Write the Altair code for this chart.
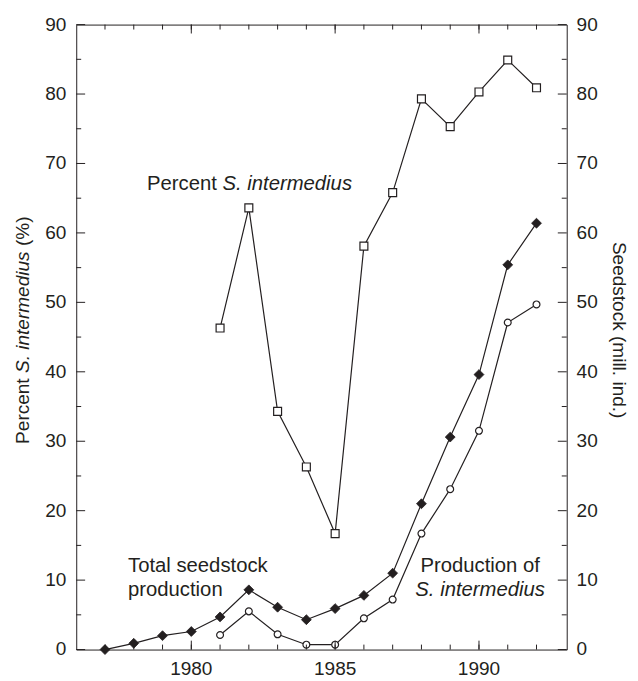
import altair as alt
import pandas as pd

# ---------------- data ----------------
pct_years = list(range(1981, 1993))
pct_values = [46.3, 63.6, 34.3, 26.3, 16.7, 58.1, 65.8, 79.3, 75.3, 80.3, 84.9, 80.9]

total_years = list(range(1977, 1993))
total_values = [0.0, 0.9, 2.0, 2.6, 4.7, 8.6, 6.1, 4.3, 5.9, 7.8, 11.0, 21.0, 30.6, 39.6, 55.4, 61.4]

prod_years = list(range(1981, 1993))
prod_values = [2.1, 5.5, 2.2, 0.7, 0.7, 4.5, 7.2, 16.7, 23.1, 31.5, 47.1, 49.7]

x_label_values = [1980, 1985, 1990]
x_minor_ticks = list(range(1977, 1993))
y_label_values = list(range(0, 91, 10))
y_minor_ticks = list(range(5, 90, 10))

# ---------------- styling ----------------
FONT = "Liberation Sans"
INK = "#231f20"
W, H = 496, 632
LAB = 19.25
ANN = 20.5
MAJ, MIN = 9, 5

ARIAL = {'P': 667, 'e': 556, 'r': 333, 'c': 500, 'n': 556, 't': 278, ' ': 278,
         'S': 667, '.': 278, 'i': 222, 'm': 833, 'd': 556, 'u': 556, 's': 500,
         '(': 333, '%': 889, ')': 333}


def text_w(s, size):
    return sum(ARIAL.get(c, 556) for c in s) * size / 1000.0


xs = alt.Scale(domain=[1976, 1993.05], nice=False, zero=False)
ys = alt.Scale(domain=[0, 90], nice=False, zero=True)

X_ = alt.X("year:Q", scale=xs, axis=None)
Y_ = alt.Y("value:Q", scale=ys, axis=None)

pct_df = pd.DataFrame({"year": pct_years, "value": pct_values})
total_df = pd.DataFrame({"year": total_years, "value": total_values})
prod_df = pd.DataFrame({"year": prod_years, "value": prod_values})

# ---------------- series ----------------
pct_line = alt.Chart(pct_df).mark_line(color=INK, strokeWidth=1.2).encode(x=X_, y=Y_)
pct_pts = alt.Chart(pct_df).mark_point(
    shape="square", filled=True, fill="white", stroke=INK, strokeWidth=1.2,
    size=64, opacity=1).encode(x=X_, y=Y_)

total_line = alt.Chart(total_df).mark_line(color=INK, strokeWidth=1.2).encode(x=X_, y=Y_)
prod_line = alt.Chart(prod_df).mark_line(color=INK, strokeWidth=1.2).encode(x=X_, y=Y_)
total_pts = alt.Chart(total_df).mark_point(
    shape="diamond", filled=True, fill=INK, stroke=INK, strokeWidth=0.8,
    size=100, opacity=1).encode(x=X_, y=Y_)
prod_pts = alt.Chart(prod_df).mark_point(
    shape="circle", filled=True, fill="white", stroke=INK, strokeWidth=1.2,
    size=48, opacity=1).encode(x=X_, y=Y_)

# ---------------- inward tick marks on all four sides ----------------
xmaj_df = pd.DataFrame({"year": x_label_values})
xmin_df = pd.DataFrame({"year": x_minor_ticks})
ymaj_df = pd.DataFrame({"value": y_label_values})
ymin_df = pd.DataFrame({"value": y_minor_ticks})


def xticks(df, length):
    bottom = alt.Chart(df).mark_rule(color=INK, strokeWidth=1).encode(
        x=X_, y=alt.value(H), y2=alt.value(H - length))
    top = alt.Chart(df).mark_rule(color=INK, strokeWidth=1).encode(
        x=X_, y=alt.value(0), y2=alt.value(length))
    return [bottom, top]


def yticks(df, length):
    left = alt.Chart(df).mark_rule(color=INK, strokeWidth=1).encode(
        y=Y_, x=alt.value(0), x2=alt.value(length))
    right = alt.Chart(df).mark_rule(color=INK, strokeWidth=1).encode(
        y=Y_, x=alt.value(W), x2=alt.value(W - length))
    return [left, right]


tick_layers = (xticks(xmin_df, MIN) + xticks(xmaj_df, MAJ)
               + yticks(ymin_df, MIN) + yticks(ymaj_df, MAJ))

# ---------------- tick labels (through the scales) ----------------
xlab = alt.Chart(xmaj_df).mark_text(
    font=FONT, fontSize=LAB, color=INK, align="center", baseline="alphabetic").encode(
    x=X_, y=alt.value(H + 26), text=alt.Text("year:Q", format="d"))
ylab_left = alt.Chart(ymaj_df).mark_text(
    font=FONT, fontSize=LAB, color=INK, align="right", baseline="middle").encode(
    y=Y_, x=alt.value(-10), text=alt.Text("value:Q", format="d"))
ylab_right = alt.Chart(ymaj_df).mark_text(
    font=FONT, fontSize=LAB, color=INK, align="left", baseline="middle").encode(
    y=Y_, x=alt.value(W + 10), text=alt.Text("value:Q", format="d"))


# ---------------- annotations (data coordinates) ----------------
def ann(year, value, label, italic=False, align="left", dx=0):
    df = pd.DataFrame({"year": [year], "value": [value], "label": [label]})
    return alt.Chart(df).mark_text(
        font=FONT, fontSize=ANN, color=INK, align=align, baseline="alphabetic",
        fontStyle="italic" if italic else "normal", dx=dx).encode(
        x=X_, y=Y_, text="label:N")


ann_layers = [
    ann(1978.46, 66.2, "Percent"),
    ann(1978.46, 66.2, "S. intermedius", italic=True, dx=text_w("Percent ", ANN)),
    ann(1977.80, 11.1, "Total seedstock"),
    ann(1977.80, 7.7, "production"),
    ann(1990.04, 11.1, "Production of", align="center"),
    ann(1990.04, 7.7, "S. intermedius", italic=True, align="center"),
]


# ---------------- axis titles (left one mixes upright and italic) ----------------
def vtext(label, x, y, angle, italic=False, align="left"):
    return alt.Chart(pd.DataFrame({"label": [label]})).mark_text(
        font=FONT, fontSize=LAB, color=INK, align=align, baseline="alphabetic",
        angle=angle, fontStyle="italic" if italic else "normal").encode(
        x=alt.value(x), y=alt.value(y), text="label:N")


parts = [("Percent", " ", False), ("S. intermedius", " ", True), ("(%)", "", False)]
total_len = sum(text_w(p + gap, LAB) for p, gap, _ in parts)
centre_y = H / 2 - 7
start = centre_y + total_len / 2
title_layers = []
for p, gap, it in parts:
    title_layers.append(vtext(p, -47.5, start, 270, italic=it))
    start -= text_w(p + gap, LAB)
title_layers.append(vtext("Seedstock (mill. ind.)", W + 47, H / 2 - 7, 90, align="center"))

chart = alt.layer(
    pct_line, total_line, prod_line, pct_pts, total_pts, prod_pts,
    *tick_layers, xlab, ylab_left, ylab_right, *ann_layers, *title_layers,
).properties(
    width=W, height=H,
    padding={"left": 69, "top": 13, "right": 64, "bottom": 27},
    autosize=alt.AutoSizeParams(type="none"),
    background="white",
).configure_view(stroke=INK, strokeWidth=1)

chart.save("out.html", embed_options={"renderer": "svg", "actions": False})
